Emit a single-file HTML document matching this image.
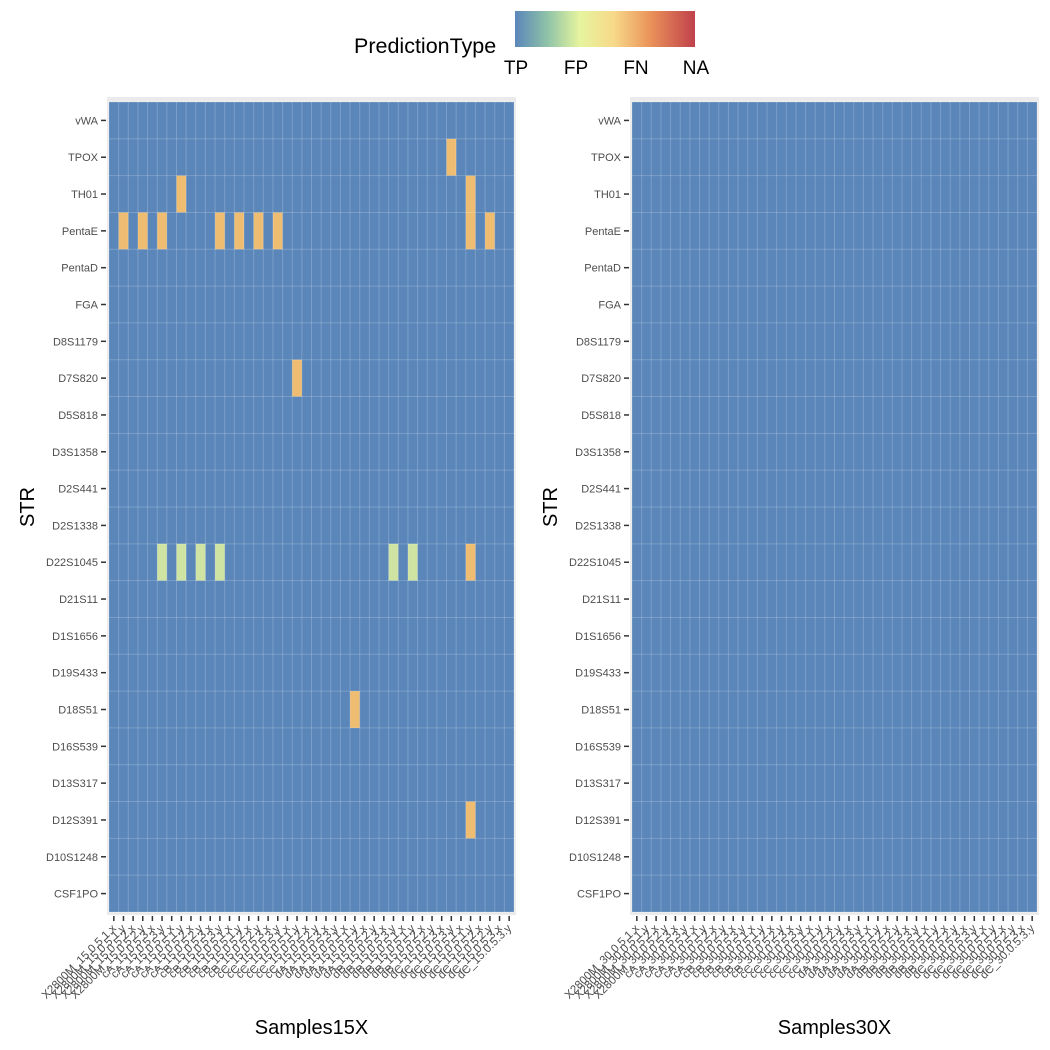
<!DOCTYPE html>
<html><head><meta charset="utf-8">
<style>
html,body{margin:0;padding:0;background:#fff;}
svg{display:block;font-family:"Liberation Sans",Arial,sans-serif;}
</style></head>
<body>
<svg id="chart" width="1050" height="1050" viewBox="0 0 1050 1050">
<defs>
<linearGradient id="lg" x1="0" x2="1" y1="0" y2="0">
<stop offset="0" stop-color="#5a86ba"/>
<stop offset="0.18" stop-color="#8fc3a8"/>
<stop offset="0.36" stop-color="#e6f49e"/>
<stop offset="0.55" stop-color="#f7d98a"/>
<stop offset="0.75" stop-color="#ea935a"/>
<stop offset="1" stop-color="#c0414b"/>
</linearGradient>
</defs>
<g id="legend">
<text x="354" y="53" font-size="21.5" fill="#000">PredictionType</text>
<rect x="515" y="11" width="180" height="36" fill="url(#lg)"/>
<text x="516" y="74" font-size="19" text-anchor="middle">TP</text>
<text x="576" y="74" font-size="19" text-anchor="middle">FP</text>
<text x="636" y="74" font-size="19" text-anchor="middle">FN</text>
<text x="696" y="74" font-size="19" text-anchor="middle">NA</text>
</g>
<g id="panels"></g>
</svg>
<script>
const strs = ["vWA","TPOX","TH01","PentaE","PentaD","FGA","D8S1179","D7S820","D5S818","D3S1358","D2S441","D2S1338","D22S1045","D21S11","D1S1656","D19S433","D18S51","D16S539","D13S317","D12S391","D10S1248","CSF1PO"];
const groups = ["X2800M","X2800M","X2800M","X2800M","cA","cA","cA","cA","cA","cA","cB","cB","cB","cB","cB","cB","cC","cC","cC","cC","cC","cC","dA","dA","dA","dA","dA","dA","dB","dB","dB","dB","dB","dB","dC","dC","dC","dC","dC","dC","dC","dC"];
const anomalies15 = [
 ["PentaE",1,"FN"],["PentaE",3,"FN"],["PentaE",5,"FN"],["PentaE",11,"FN"],["PentaE",13,"FN"],["PentaE",15,"FN"],["PentaE",17,"FN"],["PentaE",37,"FN"],["PentaE",39,"FN"],
 ["TH01",7,"FN"],["TH01",37,"FN"],["TPOX",35,"FN"],["D7S820",19,"FN"],
 ["D22S1045",5,"FP"],["D22S1045",7,"FP"],["D22S1045",9,"FP"],["D22S1045",11,"FP"],["D22S1045",29,"FP"],["D22S1045",31,"FP"],["D22S1045",37,"FN"],
 ["D18S51",25,"FN"],["D12S391",37,"FN"]
];
const anomalies30 = [];
const typeColors = {TP:"#5a86ba",FP:"#cfe3a3",FN:"#efbd72",NA:"#c0414b"};

const NS="http://www.w3.org/2000/svg";
function mk(tag,attrs,parent){const e=document.createElementNS(NS,tag);for(const k in attrs)e.setAttribute(k,attrs[k]);parent.appendChild(e);return e;}
const root=document.getElementById("panels");

function sampleName(i,cov){
  const g=groups[i];
  const xy=(i%2===0)?"x":"y";
  const k=Math.floor((i%6)/2)+1;
  return g+"_"+cov+".0.5."+k+"."+xy;
}

function panel(x0,cov,anoms,title){
  const y0=102,y1=912,x1=x0+405;
  const n=groups.length, m=strs.length;
  const cw=(x1-x0)/n, rh=(y1-y0)/m;
  const xs=i=>x0+i*cw;
  const ys=j=>y0+j*rh;
  const g=mk("g",{},root);
  
  
  const bg=mk("rect",{x:x0-2,y:y0-5,width:x1-x0+4,height:y1-y0+8,fill:"#ebebeb"},g);
  
  
  const base=mk("rect",{x:x0,y:y0,width:x1-x0,height:y1-y0,fill:typeColors.TP},g);
  
  
  anoms.forEach(a=>{
    const j=strs.indexOf(a[0]);
    const r=mk("rect",{x:xs(a[1]),y:ys(j),width:cw,height:rh,fill:typeColors[a[2]]},g);
    
    
  });
  for(let i=0;i<=n;i++){
    const l=mk("line",{x1:xs(i),x2:xs(i),y1:y0,y2:y1,stroke:"#ffffff","stroke-opacity":0.2,"stroke-width":1},g);
    
    
  }
  for(let j=0;j<=m;j++){
    const l=mk("line",{x1:x0,x2:x1,y1:ys(j),y2:ys(j),stroke:"#ffffff","stroke-opacity":0.2,"stroke-width":1},g);
    
    
  }
  strs.forEach((s,j)=>{
    const yc=ys(j)+rh/2;
    const t=mk("line",{x1:x0-8,x2:x0-3,y1:yc,y2:yc,stroke:"#333","stroke-width":1.5},g);
    
    
    const tx=mk("text",{x:x0-11,y:yc+4,"font-size":11,fill:"#4d4d4d","text-anchor":"end"},g);
    tx.textContent=s;
    
    
  });
  for(let i=0;i<n;i++){
    const xc=xs(i)+cw/2;
    const t=mk("line",{x1:xc,x2:xc,y1:y1+4,y2:y1+9,stroke:"#333","stroke-width":1.5},g);
    
    
    const tx=mk("text",{x:xc+3,y:y1+17,"font-size":11.5,fill:"#4d4d4d","text-anchor":"end",transform:"rotate(-45 "+(xc+3)+" "+(y1+17)+")"},g);
    tx.textContent=sampleName(i,cov);
    
    
  }
  const yt=mk("text",{x:x0-75,y:(y0+y1)/2,"font-size":20,fill:"#000","text-anchor":"middle",transform:"rotate(-90 "+(x0-75)+" "+((y0+y1)/2)+")"},g);
  yt.textContent="STR";
  
  
  const xt=mk("text",{x:(x0+x1)/2,y:1034,"font-size":20,fill:"#000","text-anchor":"middle"},g);
  xt.textContent=title;
  
  
}
panel(109,15,anomalies15,"Samples15X");
panel(632,30,anomalies30,"Samples30X");
</script>
</body></html>
